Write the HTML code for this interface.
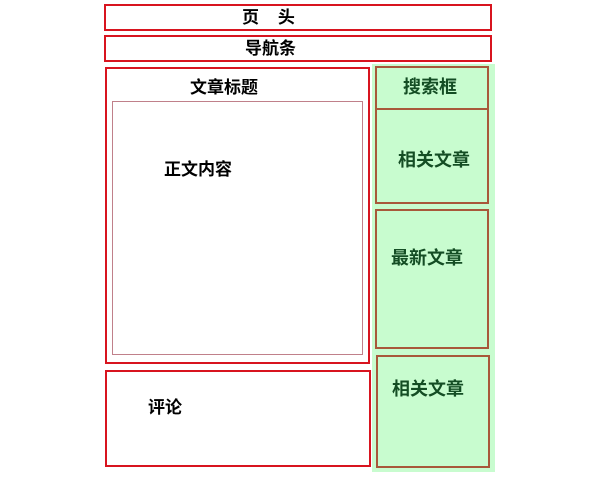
<!DOCTYPE html>
<html><head><meta charset="utf-8"><style>
body{margin:0;width:600px;height:480px;background:#fff;position:relative;overflow:hidden;font-family:"Liberation Sans","Noto Sans CJK SC",sans-serif;font-weight:bold}
div{position:absolute;box-sizing:border-box}
.r{border:2px solid #d8141f}
.b{border:2px solid #a8583a}
.t{font-size:17px;color:#000;white-space:nowrap;line-height:1}
.g{color:#144d24;font-size:18px;white-space:nowrap;line-height:1}
</style></head><body>
<div class="r" style="left:104px;top:4px;width:388px;height:27px"></div>
<div class="t" style="left:242px;top:9px">页&nbsp;&nbsp;&nbsp;&nbsp;头</div>
<div class="r" style="left:104px;top:35px;width:388px;height:27px"></div>
<div class="t" style="left:245px;top:40px">导航条</div>
<div class="r" style="left:105px;top:67px;width:265px;height:297px"></div>
<div class="t" style="left:190px;top:79px">文章标题</div>
<div style="left:112px;top:101px;width:251px;height:254px;border:1px solid #c0808a"></div>
<div class="t" style="left:164px;top:161px">正文内容</div>
<div class="r" style="left:105px;top:370px;width:266px;height:97px"></div>
<div class="t" style="left:148px;top:399px">评论</div>
<div style="left:372px;top:64px;width:123px;height:408px;background:#c8fccf"></div>
<div class="b" style="left:375px;top:66px;width:114px;height:44px"></div>
<div class="g" style="left:403px;top:78px">搜索框</div>
<div class="b" style="left:375px;top:108px;width:114px;height:96px"></div>
<div class="g" style="left:398px;top:151px">相关文章</div>
<div class="b" style="left:375px;top:209px;width:114px;height:140px"></div>
<div class="g" style="left:391px;top:249px">最新文章</div>
<div class="b" style="left:376px;top:355px;width:114px;height:113px"></div>
<div class="g" style="left:392px;top:380px">相关文章</div>
</body></html>
